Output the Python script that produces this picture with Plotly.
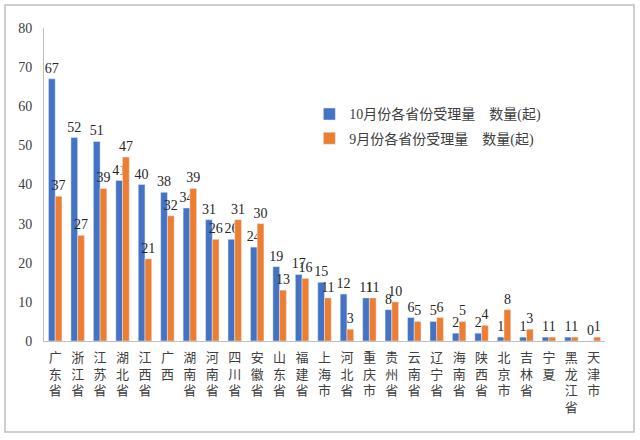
import plotly.graph_objects as go

provinces = ["广东省", "浙江省", "江苏省", "湖北省", "江西省", "广西", "湖南省", "河南省",
             "四川省", "安徽省", "山东省", "福建省", "上海市", "河北省", "重庆市", "贵州省",
             "云南省", "辽宁省", "海南省", "陕西省", "北京市", "吉林省", "宁夏", "黑龙江省", "天津市"]
oct_counts = [67, 52, 51, 41, 40, 38, 34, 31, 26, 24, 19, 17, 15, 12, 11, 8, 6, 5, 2, 2, 1, 1, 1, 1, 0]
sep_counts = [37, 27, 39, 47, 21, 32, 39, 26, 31, 30, 13, 16, 11, 3, 11, 10, 5, 6, 5, 4, 8, 3, 1, 1, 1]
y_ticks = [0, 10, 20, 30, 40, 50, 60, 70, 80]

name_oct = "10月份各省份受理量　数量(起)"
name_sep = "9月份各省份受理量　数量(起)"

font_family = "Liberation Serif, Noto Sans CJK SC"
tick_text = ["<br>".join(list(p)) for p in provinces]

fig = go.Figure()
fig.add_trace(go.Bar(x=provinces, y=oct_counts, name=name_oct, marker_color="#4472C4",
                     text=oct_counts, textposition="outside", cliponaxis=False,
                     constraintext="none", legendgroup="oct",
                     textfont=dict(size=14, color="#262626", family=font_family)))
fig.add_trace(go.Bar(x=provinces, y=sep_counts, name=name_sep, marker_color="#ED7D31",
                     text=sep_counts, textposition="outside", cliponaxis=False,
                     constraintext="none", legendgroup="sep",
                     textfont=dict(size=14, color="#262626", family=font_family)))

fig.update_layout(
    width=640, height=440,
    margin=dict(l=44, r=35, t=28, b=99, autoexpand=False),
    paper_bgcolor="white", plot_bgcolor="white",
    barmode="group", bargap=0.4, bargroupgap=0,
    font=dict(family=font_family, size=13, color="#404040"),
    showlegend=True,
    legend=dict(x=0.473, y=0.775, xanchor="left", yanchor="top",
                bgcolor="rgba(255,255,255,0)", font=dict(size=14, color="#404040"),
                itemwidth=30, tracegroupgap=3, traceorder="grouped"),
    shapes=[dict(type="rect", xref="paper", yref="paper",
                 x0=-0.0695, x1=1.0517, y0=-0.2907, y1=1.0735,
                 line=dict(color="#BFBFBF", width=1.5), fillcolor="rgba(0,0,0,0)")],
)
fig.update_xaxes(tickmode="array", tickvals=provinces, ticktext=tick_text, tickangle=0,
                 showline=True, linecolor="#BFBFBF", linewidth=1, showgrid=False,
                 ticks="", automargin=False, ticklabelstandoff=4,
                 tickfont=dict(size=13, color="#404040"))
fig.update_yaxes(range=[0, 80], tickvals=y_ticks, showline=True, linecolor="#BFBFBF",
                 linewidth=1, showgrid=False, zeroline=False, ticks="", automargin=False,
                 ticklabelstandoff=8, tickfont=dict(size=14, color="#404040"))

fig.write_html("out.html", config={"displayModeBar": False},
               post_script="document.body.style.margin='0';")
